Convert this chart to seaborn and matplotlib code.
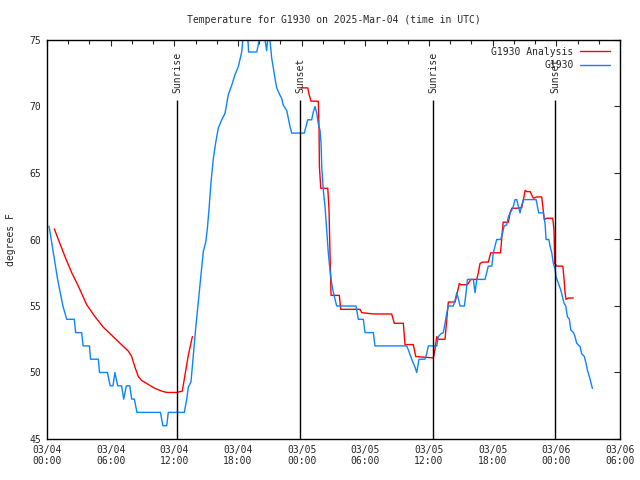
import matplotlib
matplotlib.use("Agg")
import matplotlib.pyplot as plt
import seaborn as sns
import pandas as pd
import numpy as np
from matplotlib.ticker import MultipleLocator

# hours after 2025-03-04 00:00 UTC
obs_hours = [0.19, 0.5, 1.0, 1.5, 1.86, 2.57, 2.70, 3.27, 3.40, 4.00, 4.10, 4.84, 4.95, 5.70, 5.95, 6.22,
             6.40, 6.66, 7.03, 7.23, 7.48, 7.80, 7.98, 8.23, 8.48, 10.69, 10.92, 11.28, 11.43, 12.94,
             13.17, 13.32, 13.57, 13.79, 14.01, 14.26, 14.51, 14.73, 14.96, 15.11, 15.27, 15.46,
             15.68, 15.91, 16.15, 16.47, 16.78, 17.09, 17.41, 17.72, 18.03, 18.35, 18.50, 18.70,
             18.90, 19.00, 19.77, 20.00, 20.20, 20.45, 20.70, 20.85, 21.02, 21.18, 21.33, 21.49,
             21.65, 21.86, 22.12, 22.27, 22.59, 22.74, 22.90, 23.06, 24.25, 24.57, 24.94, 25.10,
             25.26, 25.42, 25.57, 25.73, 25.83, 25.89, 26.04, 26.20, 26.36, 26.51, 26.67, 26.83,
             26.99, 27.14, 27.30, 29.12, 29.34, 29.81, 29.97, 30.75, 30.91, 33.90, 34.05, 34.37,
             34.68, 34.84, 35.06, 35.62, 35.78, 35.94, 36.73, 36.88, 37.11, 37.35, 37.51, 37.67,
             37.82, 38.29, 38.46, 38.62, 38.77, 38.93, 39.34, 39.49, 39.62, 40.18, 40.34, 40.50,
             41.28, 41.44, 41.59, 41.92, 42.06, 42.22, 42.38, 42.76, 42.94, 43.07, 43.32, 43.48,
             43.64, 43.80, 43.95, 44.11, 44.27, 44.43, 44.58, 44.74, 44.90, 46.09, 46.21, 46.34,
             46.78, 46.94, 47.03, 47.29, 47.41, 47.57, 47.72, 47.88, 47.97, 48.19, 48.42, 48.57,
             48.73, 48.89, 49.04, 49.23, 49.36, 49.61, 49.76, 49.92, 50.24, 50.39, 50.64, 50.80,
             50.92, 51.11, 51.27, 51.40]
obs_temp = [61.0, 59.5, 57.0, 55.0, 54, 54, 53, 53, 52, 52, 51, 51, 50, 50, 49, 49,
            50, 49, 49, 48, 49, 49, 48, 48, 47, 47, 46, 46, 47, 47,
            48, 48.9, 49.3, 51.3, 53.3, 55.3, 57.3, 59.1, 59.8, 60.8, 62.3, 64.35,
            66.1, 67.35, 68.4, 69.0, 69.5, 70.9, 71.6, 72.4, 73.0, 74.1, 75.5, 76.0,
            75.5, 74.1, 74.1, 75.0, 75.5, 75.5, 74.2, 75.5, 74.9, 73.6, 72.9, 72.1,
            71.4, 71.0, 70.6, 70.1, 69.7, 69.1, 68.5, 68.0, 68, 69, 69, 69.6,
            70, 69.5, 68.7, 68.2, 67.2, 65.5, 63.7, 62.5, 60.7, 59.0, 57.7, 56.7,
            56.0, 55.5, 55, 55, 54, 54, 53, 53, 52, 52, 51.7, 51,
            50.4, 50, 51, 51, 51.4, 52, 52, 52.7, 52.9, 53, 53.7, 54.45,
            55, 55, 55.45, 56, 55.5, 55, 55, 56, 57, 57, 56, 57,
            57, 57.5, 58, 58, 59, 59.5, 60, 60, 60.5, 61, 61.1, 61.7,
            62, 62.2, 62.5, 63, 63, 62.5, 62, 62.6, 63, 63, 62.5, 62,
            62, 61.2, 60, 60, 59.5, 59, 58.2, 57.8, 57.2, 56.7, 56.2, 55.7,
            55.2, 55, 54.2, 54, 53.2, 53, 52.7, 52.2, 51.95, 51.4, 51.2, 50.7,
            50.2, 49.7, 49.2, 48.8]

ana_hours_1 = [0.69, 1.07, 1.70, 2.33, 2.95, 3.74, 4.52, 5.31, 6.10, 6.88, 7.67, 7.98, 8.29, 8.60,
               8.92, 9.55, 10.18, 10.81, 11.28, 12.22, 12.75, 13.00, 13.32, 13.70]
ana_temp_1 = [60.8, 60.0, 58.7, 57.5, 56.5, 55.1, 54.2, 53.4, 52.8, 52.2, 51.6, 51.2, 50.4, 49.7,
              49.4, 49.1, 48.8, 48.6, 48.5, 48.5, 48.6, 49.8, 51.3, 52.7]
ana_hours_2 = [23.94, 24.57, 24.70, 24.88, 25.10, 25.57, 25.64, 25.67, 25.80, 26.46, 26.58, 26.64,
               26.70, 26.77, 27.55, 27.68, 29.50, 29.66, 30.75, 32.48, 32.73, 33.58, 33.74, 34.52,
               34.75, 36.41, 36.56, 36.73, 36.88, 37.51, 37.67, 37.82, 38.46, 38.67, 38.86, 38.99,
               39.62, 39.78, 39.94, 40.50, 40.65, 40.81, 41.06, 41.59, 41.82, 42.74, 42.90, 42.99,
               43.48, 43.64, 43.80, 44.27, 44.74, 44.90, 45.06, 45.22, 45.54, 45.68, 45.84, 46.15,
               46.62, 46.72, 46.87, 47.10, 47.66, 47.78, 47.85, 48.04, 48.61, 48.73, 48.82, 48.92,
               49.13, 49.60]
ana_temp_2 = [71.4, 71.4, 70.9, 70.4, 70.4, 70.4, 68.2, 65.5, 63.85, 63.85, 62.2, 60.0,
              58.0, 55.8, 55.8, 54.75, 54.75, 54.5, 54.4, 54.4, 53.7, 53.7, 52.1, 52.1,
              51.2, 51.1, 51.7, 52.7, 52.5, 52.5, 53.95, 55.3, 55.3, 56.0, 56.7, 56.6,
              56.6, 56.8, 57.0, 57.0, 57.5, 58.2, 58.3, 58.3, 59.0, 59.0, 60.5, 61.3,
              61.3, 62.0, 62.35, 62.35, 62.4, 63.0, 63.7, 63.6, 63.6, 63.35, 63.1, 63.2,
              63.2, 62.5, 61.5, 61.6, 61.6, 60.7, 58.2, 58.0, 58.0, 57.0, 56.0, 55.5,
              55.6, 55.6]

sun_hours = [12.25, 23.85, 36.38, 47.88]
sun_labels = ["Sunrise", "Sunset", "Sunrise", "Sunset"]

tick_hours = [0, 6, 12, 18, 24, 30, 36, 42, 48, 54]
tick_labels = ["03/04\n00:00", "03/04\n06:00", "03/04\n12:00", "03/04\n18:00",
               "03/05\n00:00", "03/05\n06:00", "03/05\n12:00", "03/05\n18:00",
               "03/06\n00:00", "03/06\n06:00"]

sns.set_style("white")
plt.rcParams['font.family'] = ['DejaVu Sans Mono']
plt.rcParams['font.size'] = 7

obs = pd.DataFrame({"hour": obs_hours, "temp": obs_temp})
ana1 = pd.DataFrame({"hour": ana_hours_1, "temp": ana_temp_1})
ana2 = pd.DataFrame({"hour": ana_hours_2, "temp": ana_temp_2})

fig = plt.figure(figsize=(6.4, 4.8), dpi=100)
ax = fig.add_axes([47 / 640, 1 - 439 / 480, 573 / 640, 399 / 480])

# analysis has a gap in the middle, so two pieces
sns.lineplot(ax=ax, data=ana1, x="hour", y="temp", estimator=None, sort=False,
             color="#ff0000", linewidth=1.0, label="G1930 Analysis")
sns.lineplot(ax=ax, data=ana2, x="hour", y="temp", estimator=None, sort=False,
             color="#ff0000", linewidth=1.0, label="_nolegend_")
sns.lineplot(ax=ax, data=obs, x="hour", y="temp", estimator=None, sort=False,
             color="#0a84ff", linewidth=1.0, label="G1930")

for h, lab in zip(sun_hours, sun_labels):
    ax.vlines(h, 45, 70.5, color="black", linewidth=1.0)
    ax.text(h, 71.0, lab, rotation=90, ha="center", va="bottom", fontsize=7)

ax.set_xlim(0, 54)
ax.set_ylim(45, 75)
ax.set_xticks(tick_hours)
ax.set_xticklabels(tick_labels)
ax.xaxis.set_minor_locator(MultipleLocator(2))
ax.yaxis.set_major_locator(MultipleLocator(5))
ax.tick_params(which="both", direction="in", top=True, right=True, length=4, width=0.8,
               labelsize=7, pad=4)
ax.tick_params(which="minor", length=3)
for s in ax.spines.values():
    s.set_linewidth(1.0)
    s.set_color("black")

ax.set_xlabel("")
ax.set_ylabel("degrees F", fontsize=7, labelpad=10)
ax.set_title("Temperature for G1930 on 2025-Mar-04 (time in UTC)", fontsize=7, pad=12)

handles, labels = ax.get_legend_handles_labels()
keep = dict(zip(labels, handles))
ax.legend(list(keep.values()), list(keep.keys()), loc="upper right", bbox_to_anchor=(0.995, 1.0),
          frameon=False, markerfirst=False, handlelength=3.1, handletextpad=0.7,
          labelspacing=0.35, fontsize=7, borderaxespad=0.3)

fig.savefig("out.png", dpi=100)
